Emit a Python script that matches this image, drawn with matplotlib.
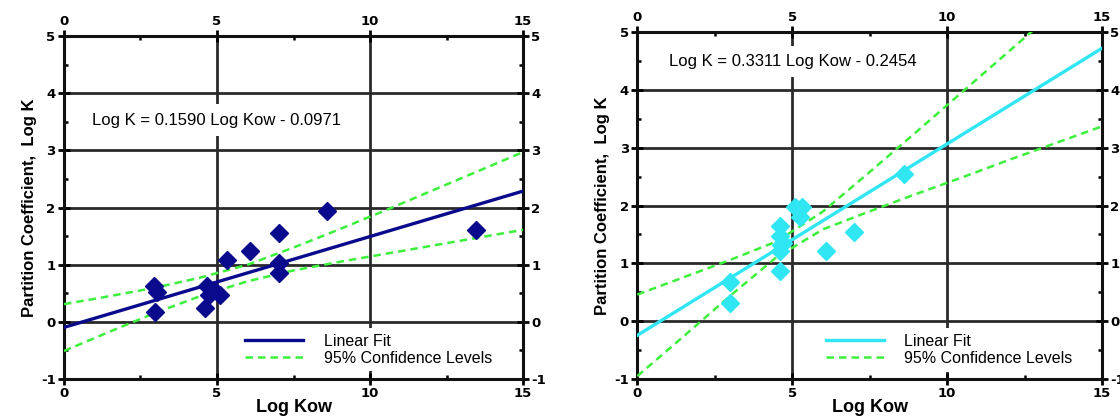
import matplotlib
matplotlib.use("Agg")
import matplotlib.pyplot as plt
from matplotlib.ticker import MultipleLocator

plt.rcParams['font.family'] = ['Liberation Sans', 'DejaVu Sans']

# ---------------- data ----------------
# Left panel (navy)
left_x = [2.93, 3.04, 2.99, 4.67, 4.73, 4.62, 4.90, 5.11, 5.33, 6.09, 7.01, 7.01, 7.01, 8.59, 13.47]
left_y = [0.62, 0.53, 0.18, 0.62, 0.47, 0.24, 0.55, 0.47, 1.09, 1.24, 1.56, 1.03, 0.85, 1.94, 1.60]
left_fit_x = [0, 15]
left_fit_y = [-0.097, 2.288]
band_x = [0, 1.5, 3, 4.5, 6, 7.5, 9, 10.5, 12, 13.5, 15]
left_upper = [0.31, 0.45, 0.60, 0.78, 1.00, 1.30, 1.62, 1.95, 2.29, 2.63, 2.97]
left_lower = [-0.51, -0.17, 0.16, 0.46, 0.71, 0.90, 1.05, 1.19, 1.33, 1.47, 1.61]
left_eq = "Log K = 0.1590 Log Kow - 0.0971"

# Right panel (cyan)
right_x = [3.0, 3.0, 4.6, 4.6, 4.65, 4.6, 4.7, 4.6, 5.1, 5.3, 5.25, 6.1, 7.0, 8.6]
right_y = [0.68, 0.31, 1.65, 1.48, 1.32, 1.22, 1.35, 0.86, 1.97, 1.97, 1.80, 1.22, 1.55, 2.55]
right_fit_x = [0, 15]
right_fit_y = [-0.245, 4.721]
right_upper = [0.46, 0.76, 1.06, 1.38, 1.90, 2.58, 3.27, 3.97, 4.67, 5.37, 6.07]
right_lower = [-0.95, -0.26, 0.44, 1.11, 1.59, 1.90, 2.20, 2.49, 2.79, 3.08, 3.37]
right_eq = "Log K = 0.3311 Log Kow - 0.2454"

x_ticks = [0, 5, 10, 15]
y_ticks = [-1, 0, 1, 2, 3, 4, 5]
xlabel = "Log Kow"
ylabel = "Partition Coefficient,  Log K"
legend_labels = ["Linear Fit", "95% Confidence Levels"]

# ---------------- figure ----------------
fig = plt.figure(figsize=(11.2, 4.16), dpi=100)
axL = fig.add_axes([0.0571, 0.0889, 0.410, 0.8245])
axR = fig.add_axes([0.569, 0.0889, 0.415, 0.834])

GREEN = '#3cf03c'


def style(ax):
    ax.set_xlim(0, 15)
    ax.set_ylim(-1, 5)
    ax.set_xticks(x_ticks)
    ax.set_yticks(y_ticks)
    ax.set_xticklabels([str(t) for t in x_ticks])
    ax.set_yticklabels([str(t) for t in y_ticks])
    ax.xaxis.set_minor_locator(MultipleLocator(2.5))
    ax.yaxis.set_minor_locator(MultipleLocator(0.5))
    ax.tick_params(which='major', direction='inout', length=8, width=2,
                   top=True, right=True, labeltop=True, labelright=True,
                   labelsize=9.5, pad=2)
    ax.tick_params(which='minor', direction='in', length=3, width=1.8,
                   top=True, right=True)
    for lab in ax.get_xticklabels() + ax.get_yticklabels():
        lab.set_fontweight('bold')
        lab.set_family(['DejaVu Sans'])
    for sp in ax.spines.values():
        sp.set_linewidth(2.2)
        sp.set_color('#111111')
    ax.grid(True, which='major', color='#2a2a2a', linewidth=2.0)
    ax.set_axisbelow(True)
    ax.set_xlabel(xlabel, fontsize=13, fontweight='bold', labelpad=-1)
    ax.set_ylabel(ylabel, fontsize=12, fontweight='bold', labelpad=3)


def panel(ax, xs, ys, fx, fy, up, lo, color, eq, eqpos, legpos):
    style(ax)
    ax.plot(fx, fy, color=color, lw=2.4, label=legend_labels[0], zorder=3)
    ax.plot(band_x, up, color=GREEN, lw=1.8, ls=(0, (3, 2)),
            label=legend_labels[1], zorder=3)
    ax.plot(band_x, lo, color=GREEN, lw=1.8, ls=(0, (3, 2)), zorder=3)
    ax.plot(xs, ys, ls='none', marker='D', ms=9.5, color=color,
            mec=color, zorder=4)
    ax.text(eqpos[0], eqpos[1], eq, transform=ax.transAxes, fontsize=12,
            ha='left', va='center', zorder=5,
            bbox=dict(facecolor='white', edgecolor='none', pad=6))
    leg = ax.legend(loc='upper left', bbox_to_anchor=legpos, fontsize=11.5,
                    frameon=True, fancybox=False, framealpha=1,
                    edgecolor='none', facecolor='white', handlelength=3.6,
                    handletextpad=1.3, labelspacing=0.15, borderpad=0.35,
                    borderaxespad=0)
    leg.set_zorder(6)


panel(axL, left_x, left_y, left_fit_x, left_fit_y, left_upper, left_lower,
      '#0a0a8c', left_eq, (0.061, 0.755), (0.383, 0.149))
panel(axR, right_x, right_y, right_fit_x, right_fit_y, right_upper, right_lower,
      '#30e6f2', right_eq, (0.069, 0.915), (0.394, 0.147))

fig.savefig('out.png', dpi=100)
